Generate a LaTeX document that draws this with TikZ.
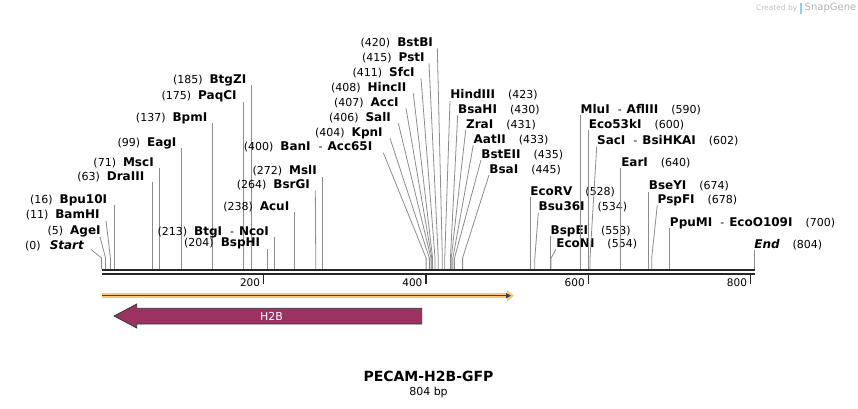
\documentclass[tikz,border=0pt]{standalone}
\usepackage{fontspec}
\setmainfont{DejaVu Sans}
\usetikzlibrary{arrows.meta}
\definecolor{hbcol}{RGB}{155,50,98}
\definecolor{orfcol}{RGB}{250,200,120}
\definecolor{logoblue}{RGB}{150,200,240}
\newcommand{\bp}[1]{101.5+0.8115*#1}
\newcommand{\enz}[1]{{\fontsize{12}{14}\selectfont\bfseries #1}}
\tikzset{site/.style = {inner sep=0, font=\fontsize{11}{13}\selectfont}}
\tikzset{lsite/.style = {site, anchor=base east, xshift=-5pt, yshift=2pt}}
\tikzset{rsite/.style = {site, anchor=base west, yshift=2pt}}
\tikzset{cutline/.style = {draw=black!45, line width=0.8pt}}
\tikzset{tick/.style = {draw=black!85, line width=1.3pt}}
\tikzset{tlabel/.style = {inner sep=0, anchor=east, font=\fontsize{10.5}{12}\selectfont}}

\begin{document}
\begin{tikzpicture}[x=1pt, y=-1pt]
  \useasboundingbox (0,0) rectangle (858,408);

  % sites, left of their lines
  \draw[cutline] (\bp{0},269) -- (\bp{0},258) -- (91,249.5) node[lsite, xshift=-1.7pt, yshift=-2pt] (start) {(0)\hspace{9pt}\enz{\itshape Start}};
  \draw[cutline] (\bp{5},269) -- (\bp{5},258) -- (100,236.7) node[lsite, xshift=6pt] (agei) {(5)\hspace{7pt}\enz{AgeI}};
  \draw[cutline] (\bp{11},269) -- (\bp{11},258) -- (106,220.7) node[lsite, xshift=-1pt] (bamhi) {(11)\hspace{7pt}\enz{BamHI}};
  \draw[cutline] (\bp{16},269) -- (\bp{16},205) node[lsite, xshift=-2pt] (bpuI) {(16)\hspace{7pt}\enz{Bpu10I}};
  \draw[cutline] (\bp{63},269) -- (\bp{63},182.3) node[lsite, xshift=-3pt] (draiii) {(63)\hspace{7pt}\enz{DraIII}};
  \draw[cutline] (\bp{71},269) -- (\bp{71},168.3) node[lsite] (msci) {(71)\hspace{7pt}\enz{MscI}};
  \draw[cutline] (\bp{99},269) -- (\bp{99},148.3) node[lsite] (eagi) {(99)\hspace{7pt}\enz{EagI}};
  \draw[cutline] (\bp{137},269) -- (\bp{137},123.3) node[lsite] (bpmi) {(137)\hspace{7pt}\enz{BpmI}};
  \draw[cutline] (\bp{175},269) -- (\bp{175},101.7) node[lsite, xshift=-1.5pt] (paqci) {(175)\hspace{7pt}\enz{PaqCI}};
  \draw[cutline] (\bp{185},269) -- (\bp{185},85) node[lsite] (btgzi) {(185)\hspace{7pt}\enz{BtgZI}};
  \draw[cutline] (\bp{204},269) -- (\bp{204},248.5) node[lsite, xshift=-1.5pt] (bsphi) {(204)\hspace{7pt}\enz{BspHI}};
  \draw[cutline] (\bp{213},269) -- (\bp{213},237) node[lsite] (ncoi) {(213)\hspace{7pt}\enz{BtgI}\hspace{8pt}-\hspace{5pt}\enz{NcoI}};
  \draw[cutline] (\bp{238},269) -- (\bp{238},212) node[lsite] (acui) {(238)\hspace{7pt}\enz{AcuI}};
  \draw[cutline] (\bp{264},269) -- (\bp{264},258) -- (315.3,190.7) node[lsite] (bsrgi) {(264)\hspace{7pt}\enz{BsrGI}};
  \draw[cutline] (\bp{272},269) -- (\bp{272},176.7) node[lsite] (msli) {(272)\hspace{7pt}\enz{MslI}};
  \draw[cutline] (\bp{400},269) -- (\bp{400},258) -- (383.3,152.7) node[lsite, xshift=-5.6pt] (acc65i) {(400)\hspace{7pt}\enz{BanI}\hspace{8pt}-\hspace{5pt}\enz{Acc65I}};
  \draw[cutline] (\bp{404},269) -- (\bp{404},258) -- (390,138.3) node[lsite, xshift=-2pt] (kpni) {(404)\hspace{7pt}\enz{KpnI}};
  \draw[cutline] (\bp{406},269) -- (\bp{406},258) -- (398.3,123.3) node[lsite, xshift=-2pt] (sali) {(406)\hspace{7pt}\enz{SalI}};
  \draw[cutline] (\bp{407},269) -- (\bp{407},258) -- (406,108.3) node[lsite, xshift=-2pt] (acci) {(407)\hspace{7pt}\enz{AccI}};
  \draw[cutline] (\bp{408},269) -- (\bp{408},258) -- (413.3,93.3) node[lsite, xshift=-1.5pt] (hincii) {(408)\hspace{7pt}\enz{HincII}};
  \draw[cutline] (\bp{411},269) -- (\bp{411},258) -- (421,78.3) node[lsite, xshift=-1pt] (sfci) {(411)\hspace{7pt}\enz{SfcI}};
  \draw[cutline] (\bp{415},269) -- (\bp{415},258) -- (429,63.3) node[lsite, xshift=1pt] (psti) {(415)\hspace{7pt}\enz{PstI}};
  \draw[cutline] (\bp{420},269) -- (\bp{420},258) -- (437.3,48) node[lsite, xshift=1pt] (bstbi) {(420)\hspace{7pt}\enz{BstBI}};

  % sites, right of their lines
  \draw[cutline] (\bp{423},269) -- (\bp{423},258) -- (450,100.7) node[rsite] (hindiii) {\enz{HindIII}\hspace{13pt}(423)};
  \draw[cutline] (\bp{430},269) -- (\bp{430},258) -- (457.7,115) node[rsite] (bsahi) {\enz{BsaHI}\hspace{13pt}(430)};
  \draw[cutline] (\bp{431},269) -- (\bp{431},258) -- (465.7,130) node[rsite] (zrai) {\enz{ZraI}\hspace{13pt}(431)};
  \draw[cutline] (\bp{433},269) -- (\bp{433},258) -- (473.3,145) node[rsite] (aatii) {\enz{AatII}\hspace{13pt}(433)};
  \draw[cutline] (\bp{435},269) -- (\bp{435},258) -- (481,160) node[rsite] (bsteii) {\enz{BstEII}\hspace{13pt}(435)};
  \draw[cutline] (\bp{445},269) -- (\bp{445},258) -- (489,175) node[rsite] (bsai) {\enz{BsaI}\hspace{13pt}(445)};
  \draw[cutline] (\bp{528},269) -- (\bp{528},197.3) node[rsite] (ecorv) {\enz{EcoRV}\hspace{13pt}(528)};
  \draw[cutline] (\bp{534},269) -- (\bp{534},258) -- (538.3,212.7) node[rsite] (bsu36i) {\enz{Bsu36I}\hspace{13pt}(534)};
  \draw[cutline] (\bp{553},269) -- (\bp{553},236) node[rsite] (bspei) {\enz{BspEI}\hspace{13pt}(553)};
  \draw[cutline] (\bp{554},269) -- (\bp{554},258) -- (556,249.3) node[rsite] (econi) {\enz{EcoNI}\hspace{13pt}(554)};
  \draw[cutline] (\bp{590},269) -- (\bp{590},115) node[rsite] (mlui) {\enz{MluI}\hspace{8pt}-\hspace{5pt}\enz{AflIII}\hspace{13pt}(590)};
  \draw[cutline] (\bp{600},269) -- (\bp{600},130) node[rsite] (eco53ki) {\enz{Eco53kI}\hspace{13pt}(600)};
  \draw[cutline] (\bp{602},269) -- (\bp{602},258) -- (596.7,146.7) node[rsite] (saci) {\enz{SacI}\hspace{8pt}-\hspace{5pt}\enz{BsiHKAI}\hspace{13pt}(602)};
  \draw[cutline] (\bp{640},269) -- (\bp{640},168.3) node[rsite] (eari) {\enz{EarI}\hspace{13pt}(640)};
  \draw[cutline] (\bp{674},269) -- (\bp{674},191.7) node[rsite] (bseyi) {\enz{BseYI}\hspace{13pt}(674)};
  \draw[cutline] (\bp{678},269) -- (\bp{678},258) -- (657.3,205) node[rsite] (pspfi) {\enz{PspFI}\hspace{13pt}(678)};
  \draw[cutline] (\bp{700},269) -- (\bp{700},228.3) node[rsite] (ppumi) {\enz{PpuMI}\hspace{8pt}-\hspace{5pt}\enz{EcoO109I}\hspace{13pt}(700)};
  \draw[cutline] (\bp{804},269) -- (\bp{804},250) node[rsite] (end) {\enz{\itshape End}\hspace{13pt}(804)};

  % backbone and ruler
  \draw[draw=black!85, line width=2.4pt] (102,270.1) -- (755,270.1);
  \draw[draw=black!85, line width=2.4pt] (102,274) -- (755,274);
  \draw[tick] (\bp{200},274) -- (\bp{200},283.5);
  \draw[tick] (\bp{400},274) -- (\bp{400},283.5);
  \draw[tick] (\bp{600},274) -- (\bp{600},283.5);
  \draw[tick] (\bp{800},274) -- (\bp{800},283.5);
  \node[tlabel] (t200) at (\bp{200}-3.5,282.5) {200};
  \node[tlabel] (t400) at (\bp{400}-3.5,282.5) {400};
  \node[tlabel] (t600) at (\bp{600}-3.5,282.5) {600};
  \node[tlabel] (t800) at (\bp{800}-3.5,282.5) {800};

  % features
  \draw[orfcol, line width=5.5pt, -{Triangle[length=7pt, width=11pt]}] (102,295.7) -- (514,295.7);
  \draw[black!75, line width=1.5pt, -{Triangle[length=5pt, width=5pt]}] (102,295.7) -- (511,295.7);
  \filldraw[fill=hbcol, draw=black!80, line width=0.7pt] (421.7,308.3) -- (136.7,308.3) -- (136.7,304) -- (114,316)
    -- (136.7,328) -- (136.7,324) -- (421.7,324) -- cycle;
  \node[text=white, font=\fontsize{11}{13}\selectfont] (h2b) at (271.5,316) {H2B};

  % title
  \node[font=\fontsize{14}{16}\selectfont\bfseries] (title) at (428.5,376) {PECAM-H2B-GFP};
  \node[font=\fontsize{11}{13}\selectfont] (size) at (428.5,392.7) {804 bp};

  \node[inner sep=0, anchor=east, text=black!25, font=\fontsize{7.5}{9}\selectfont] (made) at (797.5,8) {Created by};
  \fill[logoblue] (799.5,3) rectangle (802,13.5);
  \node[inner sep=0, anchor=west, text=black!30, font=\fontsize{10}{12}\selectfont] (snap) at (804.5,8) {SnapGene};
\end{tikzpicture}
\end{document}
